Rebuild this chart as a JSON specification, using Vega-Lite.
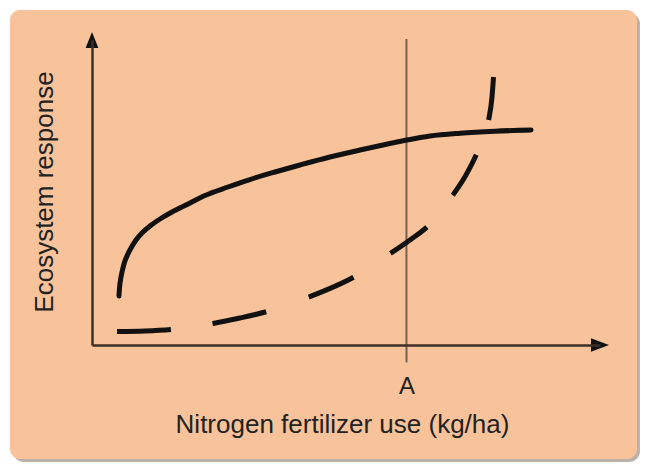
{
  "$schema": "https://vega.github.io/schema/vega-lite/v6.json",
  "width": 508,
  "height": 305,
  "autosize": {"type": "none"},
  "padding": {"left": 92, "top": 40, "right": 45, "bottom": 124},
  "background": "#ffffff",
  "config": {"view": {"stroke": null}, "font": "Liberation Sans", "axis": {"grid": false}},
  "data": {"values": [{"note": "frame"}]},
  "datasets": {
    "solid": [
      {"x": 5.31, "y": 16.07}, {"x": 5.41, "y": 18.69}, {"x": 5.61, "y": 21.31}, {"x": 5.91, "y": 23.93},
      {"x": 6.30, "y": 26.56}, {"x": 6.89, "y": 29.18}, {"x": 7.68, "y": 31.80}, {"x": 8.66, "y": 34.43},
      {"x": 9.84, "y": 36.72}, {"x": 11.42, "y": 39.02}, {"x": 13.39, "y": 41.31}, {"x": 15.75, "y": 43.61},
      {"x": 18.50, "y": 45.90}, {"x": 22.24, "y": 49.02}, {"x": 26.77, "y": 51.80}, {"x": 31.10, "y": 54.26},
      {"x": 36.02, "y": 56.72}, {"x": 40.94, "y": 59.02}, {"x": 46.85, "y": 61.64}, {"x": 52.76, "y": 63.93},
      {"x": 58.66, "y": 66.07}, {"x": 62.01, "y": 67.21}, {"x": 66.54, "y": 68.52}, {"x": 72.44, "y": 69.44},
      {"x": 79.33, "y": 70.10}, {"x": 86.42, "y": 70.49}
    ],
    "dashed": [
      {"x": 4.92, "y": 4.43}, {"x": 10.43, "y": 4.59}, {"x": 15.55, "y": 5.08}, {"x": 23.82, "y": 7.05},
      {"x": 29.13, "y": 8.85}, {"x": 34.45, "y": 10.98}, {"x": 42.72, "y": 15.74}, {"x": 51.57, "y": 22.3},
      {"x": 58.86, "y": 30.16}, {"x": 62.6, "y": 34.43}, {"x": 66.14, "y": 39.02}, {"x": 71.06, "y": 49.18},
      {"x": 73.62, "y": 55.74}, {"x": 75.79, "y": 62.95}, {"x": 77.17, "y": 68.85}, {"x": 78.15, "y": 74.43},
      {"x": 78.74, "y": 81.31}, {"x": 79.04, "y": 87.87}
    ]
  },
  "layer": [
    {
      "mark": {"type": "rect", "color": "#9e8e86", "opacity": 0.7, "cornerRadius": 11, "clip": false},
      "encoding": {
        "x": {"datum": -15.55, "type": "quantitative", "scale": {"domain": [0, 100], "nice": false, "zero": false}},
        "x2": {"datum": 107.87},
        "y": {"datum": 108.85, "type": "quantitative", "scale": {"domain": [0, 100], "nice": false, "zero": false}},
        "y2": {"datum": -38.36}
      }
    },
    {
      "mark": {"type": "rect", "color": "#f8c39a", "cornerRadius": 10, "clip": false},
      "encoding": {
        "x": {"datum": -16.14, "type": "quantitative"},
        "x2": {"datum": 107.28},
        "y": {"datum": 109.84, "type": "quantitative"},
        "y2": {"datum": -37.38}
      }
    },
    {
      "mark": {"type": "rule", "color": "#76604f", "strokeWidth": 2, "clip": false},
      "encoding": {
        "x": {"datum": 61.9, "type": "quantitative"},
        "y": {"datum": 100.3, "type": "quantitative"},
        "y2": {"datum": 0}
      }
    },
    {
      "data": {"name": "solid"},
      "mark": {"type": "line", "color": "#111111", "strokeWidth": 5, "strokeCap": "round", "interpolate": "monotone"},
      "encoding": {
        "x": {
          "field": "x", "type": "quantitative",
          "axis": {
            "zindex": 1, "values": [61.9], "labelExpr": "'A'", "grid": false,
            "domainColor": "#3d2f27", "domainWidth": 2.5,
            "ticks": true, "tickSize": 17, "tickWidth": 2, "tickColor": "#76604f",
            "labelFont": "Liberation Sans", "labelFontSize": 24, "labelColor": "#222222",
            "labelBaseline": "alphabetic", "labelPadding": 31, "labelFlush": false,
            "title": "Nitrogen fertilizer use (kg/ha)", "titleFont": "Liberation Sans",
            "titleFontSize": 26, "titleFontWeight": "normal", "titleColor": "#222222",
            "titleBaseline": "alphabetic", "titleX": 250, "titleY": 87, "titleAnchor": "middle"
          }
        },
        "y": {
          "field": "y", "type": "quantitative",
          "axis": {
            "zindex": 1, "grid": false, "ticks": false, "labels": false,
            "domainColor": "#3d2f27", "domainWidth": 2.5,
            "title": "Ecosystem response", "titleFont": "Liberation Sans",
            "titleFontSize": 26, "titleFontWeight": "normal", "titleColor": "#222222",
            "titleAngle": 270, "titleBaseline": "alphabetic", "titleAlign": "center",
            "titleX": -40, "titleY": 151.5
          }
        }
      }
    },
    {
      "data": {"name": "dashed"},
      "mark": {"type": "line", "color": "#111111", "strokeWidth": 5, "strokeCap": "butt", "strokeDash": [54, 42, 55, 45, 49, 44, 45, 41, 47, 37, 60, 40], "interpolate": "monotone"},
      "encoding": {
        "x": {"field": "x", "type": "quantitative"},
        "y": {"field": "y", "type": "quantitative"}
      }
    },
    {
      "mark": {"type": "point", "shape": "M -1 -0.75 L 1 0 L -1 0.75 Z", "size": 324, "filled": true, "color": "#111111", "opacity": 1, "clip": false},
      "encoding": {
        "x": {"datum": 100, "type": "quantitative"},
        "y": {"datum": 0, "type": "quantitative"}
      }
    },
    {
      "mark": {"type": "point", "shape": "M -0.8 1 L 0 -1 L 0.8 1 Z", "size": 256, "filled": true, "color": "#111111", "opacity": 1, "clip": false},
      "encoding": {
        "x": {"datum": 0, "type": "quantitative"},
        "y": {"datum": 100, "type": "quantitative"}
      }
    }
  ]
}
